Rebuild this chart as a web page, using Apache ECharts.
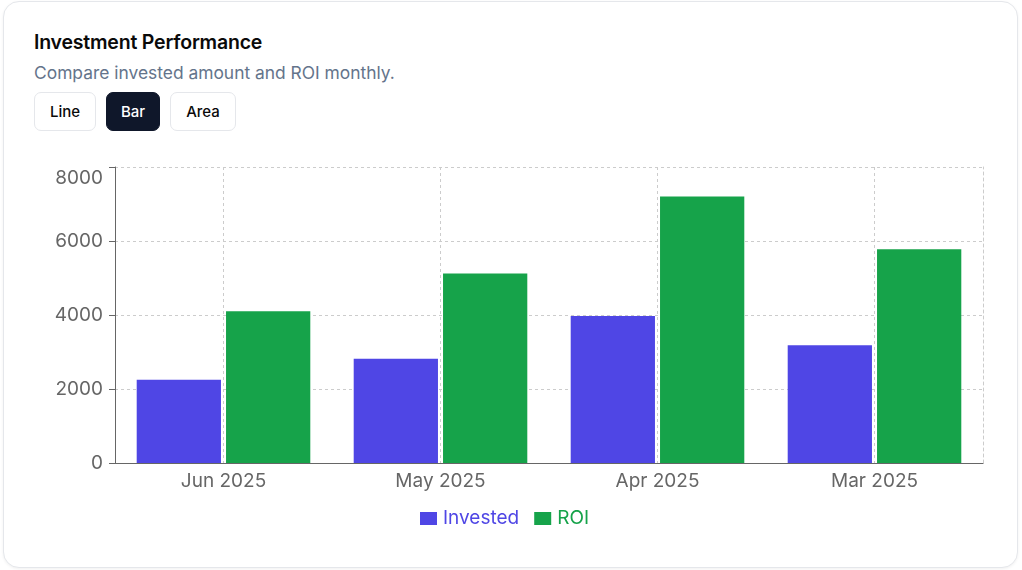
<!DOCTYPE html>
<html>
<head>
<meta charset="utf-8">
<script src="https://cdn.jsdelivr.net/npm/echarts@6/dist/echarts.min.js"></script>
<style>
  html, body { margin: 0; padding: 0; background: #ffffff; width: 1022px; height: 570px; overflow: hidden; font-family: Inter, "Noto Sans", sans-serif; }
  .card {
    position: absolute; left: 3px; top: 1px; width: 1013px; height: 565px;
    border: 1px solid #e5e7eb; border-radius: 16px; background: #fff;
    box-shadow: 0 1px 3px rgba(0,0,0,0.06);
  }
  .title { position: absolute; left: 34px; top: 30px; font-size: 19.5px; font-weight: 600; color: #0a0a0a; letter-spacing: -0.2px; }
  .sub { position: absolute; left: 34px; top: 62px; font-size: 17.4px; color: #64748b; }
  .btns { position: absolute; left: 34px; top: 92px; display: flex; gap: 10px; }
  .btn {
    height: 39px; box-sizing: border-box; border: 1px solid #e5e7eb; border-radius: 7px;
    font-size: 15px; font-weight: 500; color: #0a0a0a; background: #fff;
    display: flex; align-items: center; justify-content: center;
  }
  .btn.active { background: #0f172a; color: #fff; border-color: #0f172a; }
  #chart { position: absolute; left: 0; top: 140px; width: 1022px; height: 430px; }
</style>
</head>
<body>
<div class="card"></div>
<div class="title">Investment Performance</div>
<div class="sub">Compare invested amount and ROI monthly.</div>
<div class="btns">
  <div class="btn" style="width:62px">Line</div>
  <div class="btn active" style="width:54px">Bar</div>
  <div class="btn" style="width:66px">Area</div>
</div>
<div id="chart"></div>
<script>
const months = ["Jun 2025", "May 2025", "Apr 2025", "Mar 2025"];
const invested = [2250, 2820, 3970, 3180];
const roi = [4100, 5120, 7200, 5780];
const yTicks = { min: 0, max: 8000, interval: 2000 };

const axisGrey = "#666";
const gridGrey = "#cccccc";

const chart = echarts.init(document.getElementById("chart"));

const option = {
  animation: false,
  textStyle: { fontFamily: "Inter" },
  grid: { left: 115, right: 39, top: 27, bottom: 107, containLabel: false },
  legend: {
    left: 420,
    top: 369,
    padding: 0,
    itemWidth: 17,
    itemHeight: 13,
    itemGap: 15,
    icon: "rect",
    textStyle: { fontSize: 19, padding: [0, 0, 0, 1] },
    data: [
      { name: "Invested", textStyle: { color: "#4f46e5" } },
      { name: "ROI", textStyle: { color: "#16a34a" } },
    ],
  },
  xAxis: {
    type: "category",
    data: months,
    axisLine: { lineStyle: { color: axisGrey } },
    axisTick: { alignWithLabel: true, length: 6, lineStyle: { color: axisGrey } },
    axisLabel: { color: axisGrey, fontSize: 19, margin: 9 },
    splitLine: {
      show: true,
      alignWithLabel: true,
      lineStyle: { color: gridGrey, type: [3, 3] },
    },
  },
  yAxis: [
    {
      type: "value",
      min: yTicks.min,
      max: yTicks.max,
      interval: yTicks.interval,
      axisLine: { show: true, lineStyle: { color: axisGrey } },
      axisTick: { show: true, length: 6, lineStyle: { color: axisGrey } },
      axisLabel: {
        color: axisGrey,
        fontSize: 19,
        margin: 12,
        formatter: (v) => (v === yTicks.max ? "{top|" + v + "}" : String(v)),
        rich: { top: { fontSize: 19, color: axisGrey, padding: [22, 0, 0, 0] } },
      },
      splitLine: { lineStyle: { color: gridGrey, type: [3, 3] } },
    },
    {
      type: "value",
      position: "right",
      axisLine: { show: true, lineStyle: { color: gridGrey, type: [3, 3] } },
      axisTick: { show: false },
      axisLabel: { show: false },
      splitLine: { show: false },
    },
  ],
  series: [
    {
      name: "Invested",
      type: "bar",
      data: invested,
      barCategoryGap: "20%",
      barGap: "6%",
      itemStyle: { color: "#4f46e5" },
    },
    {
      name: "ROI",
      type: "bar",
      data: roi,
      barCategoryGap: "20%",
      barGap: "6%",
      itemStyle: { color: "#16a34a" },
    },
  ],
};

chart.setOption(option);
</script>
</body>
</html>
